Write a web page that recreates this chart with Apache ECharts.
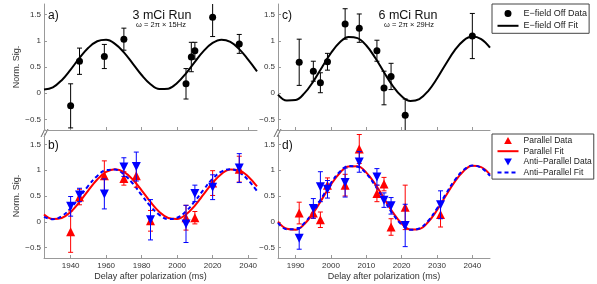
<!DOCTYPE html>
<html><head><meta charset="utf-8">
<script src="https://cdn.jsdelivr.net/npm/echarts@6/dist/echarts.min.js"></script>
<style>html,body{margin:0;padding:0;background:#fff}#c{width:597px;height:284px}</style>
</head><body><div id="c"></div><script>
// ---------- data ----------
// Panel a) 3 mCi run, E-field off
const timesA  = [1940, 1945, 1959, 1970, 2005, 2008, 2010, 2020, 2035];
const valuesA = [-0.24, 0.61, 0.70, 1.03, 0.18, 0.69, 0.81, 1.45, 0.94];
const errorsA = [0.42, 0.25, 0.23, 0.21, 0.29, 0.28, 0.16, 0.37, 0.18];
// fit sample positions (panels a/b) and fitted curve values
const fitTimesAB = [1925,1930,1935,1940,1945,1950,1955,1960,1965,1970,1975,1980,1985,1990,1995,2000,2005,2010,2015,2020,2025,2030,2035,2040,2045];
const fitA        = [0.071,0.113,0.249,0.450,0.672,0.866,0.990,1.017,0.941,0.779,0.566,0.348,0.173,0.080,0.087,0.195,0.379,0.599,0.807,0.958,1.020,0.977,0.841,0.640,0.418];
// Panel b) 3 mCi run, parallel / anti-parallel
const timesB       = [1940, 1945, 1959, 1970, 1977, 1985, 2005, 2010, 2020, 2035];
const parallelB    = [-0.19, 0.48, 0.89, 0.84, 0.89, 0.02, 0.08, 0.08, 0.75, 1.02];
const parallelErrB = [0.40, 0.15, 0.29, 0.13, 0.22, 0.20, 0.24, 0.12, 0.24, 0.25];
const antiB        = [0.30, 0.52, 0.54, 1.06, 1.07, 0.04, -0.04, 0.55, 0.67, 1.04];
const antiErrB     = [0.19, 0.13, 0.29, 0.18, 0.28, 0.39, 0.36, 0.16, 0.24, 0.28];
const parallelFitB = [0.143,0.056,0.074,0.192,0.385,0.611,0.820,0.967,1.020,0.967,0.820,0.611,0.385,0.192,0.074,0.056,0.143,0.315,0.535,0.755,0.927,1.014,0.996,0.878,0.685];
const antiFitB     = [0.096,0.050,0.110,0.262,0.474,0.699,0.889,1.001,1.011,0.918,0.742,0.520,0.301,0.134,0.054,0.079,0.203,0.400,0.626,0.832,0.974,1.020,0.960,0.808,0.596];
// Panel c) 6 mCi run, E-field off
const timesC  = [1991, 1995, 1997, 1999, 2004, 2008, 2013, 2015, 2017, 2021, 2040];
const valuesC = [0.59, 0.42, 0.20, 0.60, 1.32, 1.24, 0.81, 0.10, 0.32, -0.42, 1.09];
const errorsC = [0.44, 0.19, 0.19, 0.16, 0.29, 0.27, 0.20, 0.32, 0.25, 0.31, 0.43];
const fitTimesCD = [1985,1987.5,1990,1992.5,1995,1997.5,2000,2002.5,2005,2007.5,2010,2012.5,2015,2017.5,2020,2022.5,2025,2027.5,2030,2032.5,2035,2037.5,2040,2042.5,2045];
const fitC = [-0.025,-0.138,-0.129,0.002,0.227,0.501,0.767,0.972,1.073,1.051,0.909,0.677,0.401,0.138,-0.058,-0.147,-0.111,0.042,0.281,0.558,0.816,1.003,1.079,1.031,0.867];
// Panel d) 6 mCi run, parallel / anti-parallel
const timesD       = [1991, 1995, 1997, 1999, 2004, 2008, 2013, 2015, 2017, 2021, 2031];
const parallelD    = [0.17, 0.17, 0.04, 0.71, 0.71, 1.41, 0.55, 0.73, -0.10, 0.28, 0.14];
const parallelErrD = [0.21, 0.10, 0.15, 0.14, 0.21, 0.28, 0.16, 0.13, 0.16, 0.43, 0.24];
const antiD        = [-0.32, 0.26, 0.68, 0.63, 0.76, 1.16, 0.87, 0.42, 0.31, -0.07, 0.33];
const antiErrD     = [0.21, 0.19, 0.29, 0.17, 0.28, 0.20, 0.16, 0.14, 0.16, 0.41, 0.27];
const parallelFitD = [0.004,-0.135,-0.151,-0.041,0.172,0.444,0.721,0.946,1.073,1.075,0.953,0.732,0.456,0.182,-0.034,-0.149,-0.138,-0.004,0.225,0.503,0.774,0.981,1.084,1.060,0.914];
const antiFitD     = [-0.019,-0.144,-0.144,-0.020,0.203,0.479,0.753,0.968,1.080,1.067,0.931,0.700,0.421,0.151,-0.054,-0.154,-0.128,0.019,0.258,0.538,0.804,1.000,1.088,1.048,0.888];
// tick labels
const xTicksAB = [1940, 1960, 1980, 2000, 2020, 2040];
const xTicksCD = [1990, 2000, 2010, 2020, 2030, 2040];
const yTicks   = [-0.5, 0, 0.5, 1, 1.5];

// ---------- chart ----------
const FONT = '"Liberation Sans", Arial, Helvetica, sans-serif';
const AX = '#999', TXT = '#333';
const RED = '#ff0000', BLUE = '#0000ff';

function xAxis(gi, min, max, ticks, labels, name) {
  return {
    type: 'value', gridIndex: gi, min, max,
    axisLine: {show: true, onZero: false, lineStyle: {color: AX, width: 1}},
    axisTick: {show: true, inside: true, length: 3, customValues: ticks, lineStyle: {color: AX}},
    axisLabel: {show: labels, customValues: ticks, margin: 4, fontSize: 8, color: TXT, fontFamily: FONT,
      formatter: v => String(v)},
    splitLine: {show: false},
    name: name || '', nameLocation: 'middle', nameGap: 14,
    nameTextStyle: {fontSize: 9, color: TXT, fontFamily: FONT}
  };
}
function yAxis(gi, name) {
  return {
    type: 'value', gridIndex: gi, min: -0.7, max: 1.7,
    axisLine: {show: true, onZero: false, lineStyle: {color: AX, width: 1}},
    axisTick: {show: true, inside: true, length: 3, customValues: yTicks, lineStyle: {color: AX}},
    axisLabel: {show: true, customValues: yTicks, margin: 3, fontSize: 8, color: TXT, fontFamily: FONT,
      formatter: v => (v < 0 ? '\u2212' + Math.abs(v) : String(v))},
    splitLine: {show: false},
    name: name || '', nameLocation: 'middle', nameGap: 20, nameRotate: 90,
    nameTextStyle: {fontSize: 9, color: TXT, fontFamily: FONT}
  };
}
function errSeries(ai, times, vals, errs, color, z) {
  return {
    type: 'custom', xAxisIndex: ai, yAxisIndex: ai, z, silent: true, clip: true,
    data: times.map((t, i) => [t, vals[i] - errs[i], vals[i] + errs[i]]),
    encode: {x: 0, y: [1, 2]},
    renderItem: (params, api) => {
      const lo = api.coord([api.value(0), api.value(1)]);
      const hi = api.coord([api.value(0), api.value(2)]);
      const w = 2.5;
      const style = {stroke: color, lineWidth: 1};
      return {type: 'group', children: [
        {type: 'line', shape: {x1: lo[0], y1: lo[1], x2: hi[0], y2: hi[1]}, style},
        {type: 'line', shape: {x1: lo[0] - w, y1: lo[1], x2: lo[0] + w, y2: lo[1]}, style},
        {type: 'line', shape: {x1: hi[0] - w, y1: hi[1], x2: hi[0] + w, y2: hi[1]}, style}
      ]};
    }
  };
}
function fitSeries(ai, name, times, vals, color, dashed, z) {
  return {
    type: 'line', name, xAxisIndex: ai, yAxisIndex: ai, z, silent: true,
    data: times.map((t, i) => [t, vals[i]]), smooth: 0.4,
    symbol: 'none', showSymbol: false,
    lineStyle: {color, width: 2, type: dashed ? [4, 3] : 'solid'},
    itemStyle: {color, opacity: 0}
  };
}
function dataSeries(ai, name, times, vals, color, symbol, size, rotate, z) {
  return {
    type: 'scatter', name, xAxisIndex: ai, yAxisIndex: ai, z, silent: true,
    data: times.map((t, i) => [t, vals[i]]),
    symbol, symbolSize: size, symbolRotate: rotate || 0,
    itemStyle: {color, opacity: 1}
  };
}

const grids = [
  {left: 44, top: 4, width: 213, height: 126},
  {left: 44, top: 134, width: 213, height: 124},
  {left: 278, top: 4, width: 212, height: 126},
  {left: 278, top: 134, width: 212, height: 124}
];

const ICON_DOT = 'path://M5,0A5,5,0,1,1,4.99,0Z';
const ICON_UP = 'path://M5,0L10,9L0,9Z';
const ICON_DOWN = 'path://M0,0L10,0L5,9Z';

const legendBase = {
  orient: 'vertical', itemWidth: 21, itemHeight: 7, selectedMode: false,
  borderColor: '#444', borderWidth: 1, borderRadius: 0, backgroundColor: '#fff', z: 20,
  symbolRotate: 0, symbolKeepAspect: true
};

const option = {
  animation: false,
  backgroundColor: '#fff',
  grid: grids,
  xAxis: [
    xAxis(0, 1925, 2045, xTicksAB, false),
    xAxis(1, 1925, 2045, xTicksAB, true, 'Delay after polarization (ms)'),
    xAxis(2, 1985, 2045, xTicksCD, false),
    xAxis(3, 1985, 2045, xTicksCD, true, 'Delay after polarization (ms)')
  ],
  yAxis: [yAxis(0, 'Norm. Sig.'), yAxis(1, 'Norm. Sig.'), yAxis(2), yAxis(3)],
  legend: [
    Object.assign({}, legendBase, {
      data: [
        {name: 'E\u2212field Off Data', icon: ICON_DOT},
        {name: 'E\u2212field Off Fit', itemStyle: {opacity: 0}}
      ],
      left: 492, top: 4, itemGap: 2.3, padding: [4.5, 2, 2.5, 4.5],
      textStyle: {fontSize: 9, color: '#222', fontFamily: FONT, lineHeight: 10}
    }),
    Object.assign({}, legendBase, {
      data: [
        {name: 'Parallel Data', icon: ICON_UP},
        {name: 'Parallel Fit', itemStyle: {opacity: 0}},
        {name: 'Anti\u2212Parallel Data', icon: ICON_DOWN},
        {name: 'Anti\u2212Parallel Fit', itemStyle: {opacity: 0}}
      ],
      left: 492, top: 134, itemGap: 0.7, padding: [1.5, 2, 1.5, 4.5],
      textStyle: {fontSize: 8.5, color: '#222', fontFamily: FONT, lineHeight: 10}
    })
  ],
  series: [
    // a)
    fitSeries(0, 'E\u2212field Off Fit', fitTimesAB, fitA, '#000', false, 2),
    errSeries(0, timesA, valuesA, errorsA, '#000', 3),
    dataSeries(0, 'E\u2212field Off Data', timesA, valuesA, '#000', 'circle', 7, 0, 4),
    // b)
    fitSeries(1, 'Parallel Fit', fitTimesAB, parallelFitB, RED, false, 2),
    fitSeries(1, 'Anti\u2212Parallel Fit', fitTimesAB, antiFitB, BLUE, true, 2),
    errSeries(1, timesB, parallelB, parallelErrB, RED, 3),
    dataSeries(1, 'Parallel Data', timesB, parallelB, RED, 'triangle', 9, 0, 4),
    errSeries(1, timesB, antiB, antiErrB, BLUE, 5),
    dataSeries(1, 'Anti\u2212Parallel Data', timesB, antiB, BLUE, 'triangle', 9, 180, 6),
    // c)
    fitSeries(2, 'E\u2212field Off Fit', fitTimesCD, fitC, '#000', false, 2),
    errSeries(2, timesC, valuesC, errorsC, '#000', 3),
    dataSeries(2, 'E\u2212field Off Data', timesC, valuesC, '#000', 'circle', 7, 0, 4),
    // d)
    fitSeries(3, 'Parallel Fit', fitTimesCD, parallelFitD, RED, false, 2),
    fitSeries(3, 'Anti\u2212Parallel Fit', fitTimesCD, antiFitD, BLUE, true, 2),
    errSeries(3, timesD, parallelD, parallelErrD, RED, 3),
    dataSeries(3, 'Parallel Data', timesD, parallelD, RED, 'triangle', 9, 0, 4),
    errSeries(3, timesD, antiD, antiErrD, BLUE, 5),
    dataSeries(3, 'Anti\u2212Parallel Data', timesD, antiD, BLUE, 'triangle', 9, 180, 6)
  ],
  graphic: [
    {type: 'text', x: 48, y: 16, style: {text: 'a)', fontSize: 12, fill: '#111', fontFamily: FONT, verticalAlign: 'middle'}},
    {type: 'text', x: 48, y: 146, style: {text: 'b)', fontSize: 12, fill: '#111', fontFamily: FONT, verticalAlign: 'middle'}},
    {type: 'text', x: 282, y: 16, style: {text: 'c)', fontSize: 12, fill: '#111', fontFamily: FONT, verticalAlign: 'middle'}},
    {type: 'text', x: 282, y: 146, style: {text: 'd)', fontSize: 12, fill: '#111', fontFamily: FONT, verticalAlign: 'middle'}},
    {type: 'text', x: 162, y: 16, style: {text: '3 mCi Run', fontSize: 12.5, fill: '#111', fontFamily: FONT, align: 'center', verticalAlign: 'middle'}},
    {type: 'text', x: 161, y: 25, style: {text: '\u03c9 = 2\u03c0 \u00d7 15Hz', fontSize: 7.5, fill: '#111', fontFamily: FONT, align: 'center', verticalAlign: 'middle'}},
    {type: 'text', x: 408, y: 16, style: {text: '6 mCi Run', fontSize: 12.5, fill: '#111', fontFamily: FONT, align: 'center', verticalAlign: 'middle'}},
    {type: 'text', x: 409, y: 25, style: {text: '\u03c9 = 2\u03c0 \u00d7 29Hz', fontSize: 7.5, fill: '#111', fontFamily: FONT, align: 'center', verticalAlign: 'middle'}},
    // axis break marks
    {type: 'line', shape: {x1: 41, y1: 137, x2: 45, y2: 129}, style: {stroke: '#666', lineWidth: 1}},
    {type: 'line', shape: {x1: 44, y1: 137, x2: 48, y2: 129}, style: {stroke: '#666', lineWidth: 1}},
    {type: 'line', shape: {x1: 274, y1: 137, x2: 278, y2: 129}, style: {stroke: '#666', lineWidth: 1}},
    {type: 'line', shape: {x1: 277, y1: 137, x2: 281, y2: 129}, style: {stroke: '#666', lineWidth: 1}}
  ]
};

const chart = echarts.init(document.getElementById('c'), null, {renderer: 'canvas', width: 597, height: 284});
chart.setOption(option);
</script></body></html>
